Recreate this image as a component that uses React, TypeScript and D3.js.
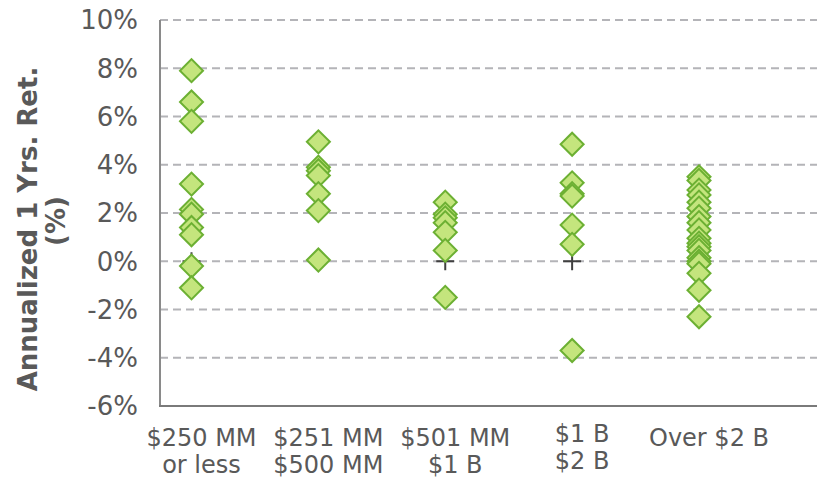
import React from "react";
import * as d3 from "d3";

// Fund size buckets (x categories), each label split over lines
const categories = ["c250", "c500", "c1b", "c2b", "over2b"];
const categoryLines: string[][] = [
  ["$250 MM", "or less"],
  ["$251 MM", "$500 MM"],
  ["$501 MM", "$1 B"],
  ["$1 B", "$2 B"],
  ["Over $2 B"],
];

// Annualized 1-year returns (%) per bucket
const returns250 = [7.9, 6.6, 5.8, 3.2, 2.15, 1.95, 1.4, 1.1, -0.2, -1.1];
const returns500 = [4.95, 3.9, 3.75, 3.55, 2.8, 2.1, 0.05];
const returns1b = [2.45, 1.95, 1.8, 1.6, 1.2, 0.45, -1.5];
const returns2b = [4.85, 3.25, 2.8, 2.7, 1.5, 0.7, -3.7];
const returnsOver2b = [
  3.5, 3.35, 2.95, 2.75, 2.45, 2.2, 1.85, 1.6, 1.3, 0.95, 0.75, 0.6, 0.45,
  0.15, 0.0, -0.1, -0.5, -1.2, -2.3,
];
const seriesByCategory = [returns250, returns500, returns1b, returns2b, returnsOver2b];

// Benchmark reference (%) per bucket, drawn as a cross
const benchmark = [0, 0, 0, 0, 0];

const yTicks = [-6, -4, -2, 0, 2, 4, 6, 8, 10];

const W = 817;
const H = 480;
const left = 160;
const right = 817;
const top = 20;
const bottom = 406;

const FONT = "'DejaVu Sans', Verdana, sans-serif";
const TEXT = "#595959";

export default function App() {
  const x = d3.scalePoint<string>().domain(categories).range([191.5, 699]);
  const y = d3.scaleLinear().domain([-6, 10]).range([bottom, top]);

  const diamond = d3.symbol().type(d3.symbolSquare).size(265)();
  const fmt = (v: number) => `${v}%`;

  return (
    <svg
      width={W}
      height={H}
      style={{ position: "absolute", left: 0, top: 0, background: "#fff" }}
      fontFamily={FONT}
    >
      {/* horizontal gridlines */}
      {yTicks
        .filter((t) => t !== -6)
        .map((t) => (
          <line
            key={`g${t}`}
            x1={left}
            x2={right}
            y1={y(t)}
            y2={y(t)}
            stroke="#b4b4b8"
            strokeWidth={2}
            strokeDasharray="8,5"
          />
        ))}

      {/* axes */}
      <line x1={left} x2={left} y1={top} y2={bottom} stroke="#8a8a8a" strokeWidth={2} />
      <line x1={left - 1} x2={right} y1={bottom} y2={bottom} stroke="#7a7a7a" strokeWidth={2} />

      {/* y tick labels */}
      {yTicks.map((t) => (
        <text
          key={`t${t}`}
          x={138}
          y={y(t)}
          dy="0.36em"
          textAnchor="end"
          fontSize={26}
          fill={TEXT}
        >
          {fmt(t)}
        </text>
      ))}

      {/* y axis title */}
      <text
        transform={`translate(37, 229) rotate(-90)`}
        textAnchor="middle"
        fontSize={26}
        fontWeight="bold"
        fill={TEXT}
      >
        Annualized 1 Yrs. Ret.
      </text>
      <text
        transform={`translate(65, 221) rotate(-90)`}
        textAnchor="middle"
        fontSize={26}
        fontWeight="bold"
        fill={TEXT}
      >
        (%)
      </text>

      {/* category labels */}
      {categories.map((c, i) => (
        <text
          key={`c${c}`}
          textAnchor="middle"
          fontSize={24}
          fill={TEXT}
          transform={`translate(${(x(c) as number) + 10}, ${i === 3 ? 442 : 446})`}
        >
          {categoryLines[i].map((line, j) => (
            <tspan key={j} x={0} y={j * 27}>
              {line}
            </tspan>
          ))}
        </text>
      ))}

      {/* benchmark crosses */}
      {categories.map((c, i) => {
        const cx = x(c) as number;
        const cy = y(benchmark[i]);
        return (
          <g key={`b${c}`} stroke="#404040" strokeWidth={2}>
            <line x1={cx - 9} x2={cx + 9} y1={cy} y2={cy} />
            <line x1={cx} x2={cx} y1={cy - 9} y2={cy + 9} />
          </g>
        );
      })}

      {/* return points */}
      {categories.map((c, i) =>
        seriesByCategory[i].map((v, j) => (
          <path
            key={`p${c}${j}`}
            d={diamond as string}
            transform={`translate(${x(c)}, ${y(v)}) rotate(45)`}
            fill="#c4e57d"
            stroke="#6cb033"
            strokeWidth={2}
          />
        ))
      )}
    </svg>
  );
}
